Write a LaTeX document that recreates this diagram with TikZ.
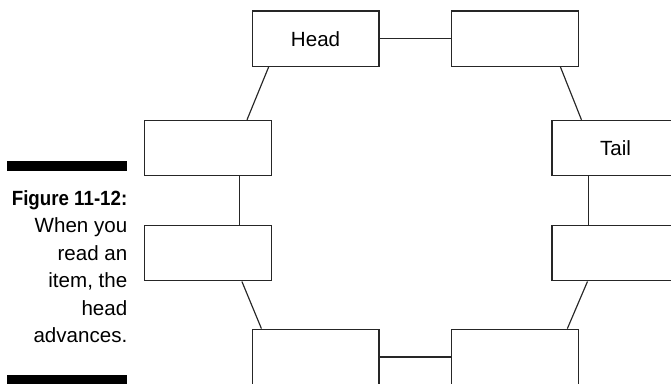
\documentclass[tikz,border=0pt]{standalone}
\usepackage{fontspec}
\setmainfont{Liberation Sans}
\newfontfamily\figfont[FakeStretch=0.91]{Liberation Sans}
\usetikzlibrary{calc}

\begin{document}
\begin{tikzpicture}[font=\fontsize{19.5}{26.1}\selectfont,
    cell/.style={draw=black!85, line width=1.1pt, minimum width=4.23cm,
                 minimum height=1.85cm, inner sep=0pt},
    link/.style={draw=black!85, line width=1.1pt}]
  \clip (0,0) rectangle (22.37,12.77);

  % caption with the two bars
  \fill (0.23,7.08) rectangle (4.25,7.41);
  \fill (0.23,-0.1) rectangle (4.25,0.27);
  \node[anchor=north east, align=right, inner sep=0pt] (caption) at (4.25,6.43)
    {{\figfont\bfseries Figure 11-12:}\\When you\\read an\\item, the\\head\\advances.};

  % ring of cells
  \node[cell] (head) at (10.52,11.48) {Head};
  \node[cell] (top)  at (17.18,11.48) {};
  \node[cell] (left1) at (6.93,7.83) {};
  \node[cell] (left2) at (6.93,4.33) {};
  \node[cell] (tail)  at (20.52,7.83) {Tail};
  \node[cell] (right2) at (20.52,4.33) {};
  \node[cell] (bot1) at (10.52,0.87) {};
  \node[cell] (bot2) at (17.18,0.87) {};

  \draw[link] (head.east) -- (top.west);
  \draw[link] (bot1.east) -- (bot2.west);
  \draw[link] ($(head.south west)+(0.57,0)$) -- ($(left1.north east)+(-0.83,0)$);
  \draw[link] ($(top.south east)+(-0.63,0)$) -- ($(tail.north west)+(1.0,0)$);
  \draw[link] ($(left1.south east)+(-1.07,0)$) -- ($(left2.north east)+(-1.07,0)$);
  \draw[link] ($(tail.south west)+(1.23,0)$) -- ($(right2.north west)+(1.23,0)$);
  \draw[link] ($(left2.south east)+(-1.0,0)$) -- ($(bot1.north west)+(0.33,0)$);
  \draw[link] ($(right2.south west)+(1.2,0)$) -- ($(bot2.north east)+(-0.4,0)$);
\end{tikzpicture}
\end{document}
